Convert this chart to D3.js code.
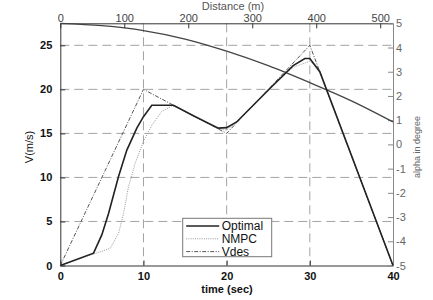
<!DOCTYPE html>
<html>
<head>
<meta charset="utf-8">
<script src="https://cdn.jsdelivr.net/npm/d3@7"></script>
<style>
  body { margin: 0; background: #fff; }
  text { font-family: "Liberation Sans", Arial, sans-serif; }
</style>
</head>
<body>
<div id="chart"></div>
<script>
// speed profiles (time in s, speed in m/s)
var optT = [0, 4, 5, 5.8, 7, 8, 9.2, 10, 11, 12.6, 13.6, 16, 19, 20, 21.2, 25.2, 28, 29.4, 30, 31.2, 40];
var optV = [0, 1.4, 3.5, 5.9, 10.1, 13.1, 15.6, 16.9, 18.2, 18.2, 18.2, 17.0, 15.6, 15.65, 16.3, 20.1, 22.7, 23.5, 23.5, 22.0, 0];

var nmpcT = [0, 6, 7, 7.6, 8.2, 9, 10, 11, 12.2, 13.4, 14, 19, 20, 21, 25, 28, 30, 31, 40];
var nmpcV = [0, 1.95, 3.66, 5.9, 8.95, 11.6, 14.1, 15.9, 17.5, 18.1, 18.0, 15.5, 15.4, 16.1, 20.0, 22.5, 23.2, 22.4, 0];

var vdesT = [0, 10, 20, 30, 40];
var vdesV = [0, 20, 15, 25, 0];

// road grade vs distance
var distM = [0, 65, 130, 195, 260, 325, 390, 455, 520];
var alphaDeg = [5.0, 4.9, 4.7, 4.35, 3.85, 3.25, 2.55, 1.8, 0.93];

var vTicks = [0, 5, 10, 15, 20, 25];
var tTicks = [0, 10, 20, 30, 40];
var dTicks = [0, 100, 200, 300, 400, 500];
var aTicks = [-5, -4, -3, -2, -1, 0, 1, 2, 3, 4, 5];

var width = 433, height = 300;
var pLeft = 60.3, pRight = 393, pTop = 23.3, pBottom = 265.5;

var svg = d3.select("#chart").append("svg")
  .attr("width", width)
  .attr("height", height);

var x = d3.scaleLinear().domain([0, 40]).range([pLeft, pRight]);
var xd = d3.scaleLinear().domain([0, 520]).range([pLeft, pRight]);
var y = d3.scaleLinear().domain([0, 27.5]).range([pBottom, pTop]);
var ya = d3.scaleLinear().domain([-5, 5]).range([pBottom, pTop]);

// grid
var grid = svg.append("g")
  .attr("stroke", "#8c8c8c")
  .attr("stroke-width", 0.8)
  .attr("stroke-dasharray", "9,5");
grid.selectAll(".hg").data(vTicks.filter(function(d){ return d > 0; }))
  .enter().append("line")
  .attr("x1", pLeft).attr("x2", pRight)
  .attr("y1", function(d){ return y(d); }).attr("y2", function(d){ return y(d); });
grid.selectAll(".vg").data(tTicks.filter(function(d){ return d > 0 && d < 40; }))
  .enter().append("line")
  .attr("y1", pTop).attr("y2", pBottom)
  .attr("x1", function(d){ return x(d); }).attr("x2", function(d){ return x(d); });

// axes
var plain = function(d){ return String(d); };
function styleAxis(g, color, bold) {
  g.select(".domain").attr("stroke", color);
  g.selectAll(".tick line").attr("stroke", color);
  g.selectAll(".tick text")
    .attr("fill", bold ? "#111" : "#444")
    .attr("font-size", 11)
    .attr("font-weight", bold ? "bold" : "normal")
    .attr("font-family", "Liberation Sans, Arial, sans-serif");
}

var gLeft = svg.append("g").attr("transform", "translate(" + pLeft + ",0)")
  .call(d3.axisLeft(y).tickValues(vTicks).tickFormat(plain).tickSizeInner(-5).tickSizeOuter(0).tickPadding(8));
styleAxis(gLeft, "#333", true);

var gBottom = svg.append("g").attr("transform", "translate(0," + pBottom + ")")
  .call(d3.axisBottom(x).tickValues(tTicks).tickFormat(plain).tickSizeInner(-5).tickSizeOuter(0).tickPadding(7));
styleAxis(gBottom, "#333", true);

var gTop = svg.append("g").attr("transform", "translate(0," + pTop + ")")
  .call(d3.axisTop(xd).tickValues(dTicks).tickFormat(plain).tickSizeInner(-5).tickSizeOuter(0).tickPadding(1));
styleAxis(gTop, "#333", false);

var gRight = svg.append("g").attr("transform", "translate(" + pRight + ",0)")
  .call(d3.axisRight(ya).tickValues(aTicks).tickFormat(plain).tickSizeInner(-5).tickSizeOuter(0).tickPadding(3));
styleAxis(gRight, "#888", false);
gRight.selectAll(".tick text").attr("fill", "#666");

// labels
svg.append("text").attr("x", 227).attr("y", 293).attr("text-anchor", "middle")
  .attr("font-size", 11).attr("font-weight", "bold").attr("fill", "#111").text("time (sec)");
svg.append("text").attr("transform", "translate(33,147) rotate(-90)").attr("text-anchor", "middle")
  .attr("font-size", 11).attr("fill", "#111").text("V(m/s)");
svg.append("text").attr("x", 233).attr("y", 10).attr("text-anchor", "middle")
  .attr("font-size", 11).attr("fill", "#555").text("Distance (m)");
svg.append("text").attr("transform", "translate(420,147) rotate(-90)").attr("text-anchor", "middle")
  .attr("font-size", 9).attr("fill", "#666").text("alpha in degree");

// series
var lineV = d3.line().x(function(d){ return x(d[0]); }).y(function(d){ return y(d[1]); });
var lineA = d3.line().x(function(d){ return xd(d[0]); }).y(function(d){ return ya(d[1]); }).curve(d3.curveMonotoneX);

svg.append("path").datum(d3.zip(distM, alphaDeg)).attr("d", lineA)
  .attr("fill", "none").attr("stroke", "#444").attr("stroke-width", 1.3);
svg.append("path").datum(d3.zip(vdesT, vdesV)).attr("d", lineV)
  .attr("fill", "none").attr("stroke", "#555").attr("stroke-width", 1).attr("stroke-dasharray", "4,1.5,1,1.5");
svg.append("path").datum(d3.zip(nmpcT, nmpcV)).attr("d", lineV)
  .attr("fill", "none").attr("stroke", "#999").attr("stroke-width", 1).attr("stroke-dasharray", "1,1.2");
svg.append("path").datum(d3.zip(optT, optV)).attr("d", lineV)
  .attr("fill", "none").attr("stroke", "#222").attr("stroke-width", 1.6);

// legend
var legendItems = [
  { name: "Optimal", stroke: "#222", width: 1.6, dash: null },
  { name: "NMPC", stroke: "#999", width: 1, dash: "1,1.2" },
  { name: "Vdes", stroke: "#555", width: 1, dash: "4,1.5,1,1.5" }
];
var lg = svg.append("g").attr("transform", "translate(182.7,218.3)");
lg.append("rect").attr("width", 89).attr("height", 38.4)
  .attr("fill", "#fff").attr("stroke", "#777").attr("stroke-width", 1);
var li = lg.selectAll(".li").data(legendItems).enter().append("g")
  .attr("transform", function(d, i){ return "translate(0," + (7.7 + i * 12.8) + ")"; });
li.append("line").attr("x1", 3.5).attr("x2", 36.5)
  .attr("stroke", function(d){ return d.stroke; })
  .attr("stroke-width", function(d){ return d.width; })
  .attr("stroke-dasharray", function(d){ return d.dash; });
li.append("text").attr("x", 39).attr("y", 4).attr("font-size", 12).attr("fill", "#111")
  .text(function(d){ return d.name; });
</script>
</body>
</html>
